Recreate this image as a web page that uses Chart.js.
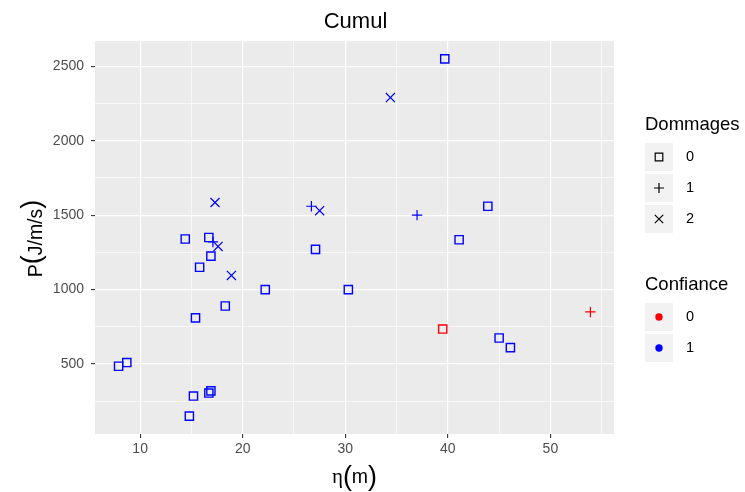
<!DOCTYPE html>
<html>
<head>
<meta charset="utf-8">
<script src="https://cdn.jsdelivr.net/npm/chart.js@4.4.0/dist/chart.umd.min.js"></script>
<style>
html, body { margin: 0; padding: 0; background: #fff; }
#wrap { position: relative; width: 745px; height: 492px; }
</style>
</head>
<body>
<div id="wrap"><canvas id="chart" width="745" height="492"></canvas></div>
<script>
// Values: eta (m), P (J/m/s), Dommages class, Confiance class
const eta = [39.7, 14.4, 16.7, 16.9, 15.8, 22.2, 18.3, 15.4, 7.9, 8.7,
             15.2, 16.9, 16.7, 14.8, 27.1, 30.3, 43.9, 41.1, 45.0, 46.1,
             39.5, 17.1, 26.7, 37.0, 53.9, 17.3, 18.9, 17.6, 34.4, 27.5];
const puissance = [2550, 1340, 1350, 1225, 1150, 1000, 890, 810, 485, 510,
                   285, 320, 305, 150, 1270, 1000, 1560, 1335, 675, 610,
                   735, 1320, 1560, 1500, 850, 1585, 1095, 1290, 2290, 1530];
const dommages = [0, 0, 0, 0, 0, 0, 0, 0, 0, 0,
                  0, 0, 0, 0, 0, 0, 0, 0, 0, 0,
                  0, 1, 1, 1, 1, 2, 2, 2, 2, 2];
const confiance = [1, 1, 1, 1, 1, 1, 1, 1, 1, 1,
                   1, 1, 1, 1, 1, 1, 1, 1, 1, 1,
                   0, 1, 1, 1, 0, 1, 1, 1, 1, 1];

const dommageLevels = ['0', '1', '2'];
const confianceLevels = ['0', '1'];

const xMajor = [10, 20, 30, 40, 50];
const xMinor = [15, 25, 35, 45, 55];
const yMajor = [500, 1000, 1500, 2000, 2500];
const yMinor = [250, 750, 1250, 1750, 2250];

const FONT = "'Liberation Sans', Arial, sans-serif";
const shapes = { 0: 'rect', 1: 'cross', 2: 'crossRot' };
const radii = { 0: 5.8, 1: 5.2, 2: 6.4 };
const colours = { 0: '#FF0000', 1: '#0000FF' };

// one dataset per (dommages, confiance) pair that exists
const datasets = [];
[0, 1, 2].forEach(d => {
    [0, 1].forEach(c => {
        const pts = [];
        eta.forEach((e, i) => {
            if (dommages[i] === d && confiance[i] === c) pts.push({ x: e, y: puissance[i] });
        });
        if (pts.length === 0) return;
        datasets.push({
            label: 'D' + d + ' C' + c,
            data: pts,
            pointStyle: shapes[d],
            pointRadius: radii[d],
            pointBorderWidth: d === 0 ? 1.4 : 1.2,
            borderColor: colours[c],
            pointBorderColor: colours[c],
            backgroundColor: 'rgba(0,0,0,0)',
            pointBackgroundColor: 'rgba(0,0,0,0)'
        });
    });
});

function drawParts(ctx, parts, cx, baseline) {
    let total = 0;
    parts.forEach(p => { ctx.font = p.font; p.w = ctx.measureText(p.t).width; total += p.w; });
    let x = cx - total / 2;
    ctx.textAlign = 'left';
    ctx.textBaseline = 'alphabetic';
    parts.forEach(p => {
        ctx.font = p.font;
        ctx.fillText(p.t, x, baseline + (p.dy || 0));
        x += p.w;
    });
}

function drawSymbol(ctx, kind, x, y) {
    ctx.save();
    ctx.strokeStyle = '#000';
    ctx.lineWidth = 1.2;
    ctx.beginPath();
    if (kind === 'rect') {
        ctx.rect(x - 3.8, y - 3.8, 7.6, 7.6);
    } else if (kind === 'cross') {
        ctx.moveTo(x - 5, y); ctx.lineTo(x + 5, y);
        ctx.moveTo(x, y - 5); ctx.lineTo(x, y + 5);
    } else {
        ctx.moveTo(x - 4.2, y - 4.2); ctx.lineTo(x + 4.2, y + 4.2);
        ctx.moveTo(x - 4.2, y + 4.2); ctx.lineTo(x + 4.2, y - 4.2);
    }
    ctx.stroke();
    ctx.restore();
}

const decorPlugin = {
    id: 'decor',
    beforeDraw(chart) {
        const ctx = chart.ctx;
        const a = chart.chartArea;
        ctx.save();
        ctx.fillStyle = '#FFFFFF';
        ctx.fillRect(0, 0, chart.width, chart.height);
        ctx.fillStyle = '#EBEBEB';
        ctx.fillRect(a.left, a.top, a.right - a.left, a.bottom - a.top);
        ctx.restore();
    },
    afterDraw(chart) {
        const ctx = chart.ctx;
        const a = chart.chartArea;
        const cx = (a.left + a.right) / 2;
        const cy = (a.top + a.bottom) / 2;
        ctx.save();
        ctx.fillStyle = '#000000';

        // title
        ctx.font = '22px ' + FONT;
        ctx.textAlign = 'center';
        ctx.textBaseline = 'alphabetic';
        ctx.fillText('Cumul', cx + 1, 28);

        // x title
        const big = '27px ' + FONT;
        const norm = '19.5px ' + FONT;
        drawParts(ctx, [
            { t: 'η', font: "21px 'Liberation Serif', serif" },
            { t: '(', font: big, dy: 2 },
            { t: 'm', font: norm },
            { t: ')', font: big, dy: 2 }
        ], cx, 483);

        // y title
        ctx.save();
        ctx.translate(42, cy + 1);
        ctx.rotate(-Math.PI / 2);
        drawParts(ctx, [
            { t: 'P', font: norm },
            { t: '(', font: big, dy: -2 },
            { t: 'J/m/s', font: norm },
            { t: ')', font: big, dy: -2 }
        ], 0, 0);
        ctx.restore();

        // legends
        const lx = 645;
        ctx.textAlign = 'left';
        ctx.textBaseline = 'middle';
        ctx.font = '18.5px ' + FONT;
        ctx.fillText('Dommages', lx, 125);
        ctx.fillText('Confiance', lx, 285);

        const dTops = [143, 174, 205];
        dommageLevels.forEach((lab, i) => {
            ctx.fillStyle = '#F2F2F2';
            ctx.fillRect(lx, dTops[i], 28, 28);
            drawSymbol(ctx, shapes[i], lx + 14, dTops[i] + 14);
            ctx.fillStyle = '#000';
            ctx.font = '14.5px ' + FONT;
            ctx.fillText(lab, 686, dTops[i] + 14);
        });

        const cTops = [303, 334];
        confianceLevels.forEach((lab, i) => {
            ctx.fillStyle = '#F2F2F2';
            ctx.fillRect(lx, cTops[i], 28, 28);
            ctx.fillStyle = colours[i];
            ctx.beginPath();
            ctx.arc(lx + 14, cTops[i] + 14, 3.7, 0, Math.PI * 2);
            ctx.fill();
            ctx.fillStyle = '#000';
            ctx.font = '14.5px ' + FONT;
            ctx.fillText(lab, 686, cTops[i] + 14);
        });
        ctx.restore();
    }
};

function gridOpts(major) {
    return {
        color: '#FFFFFF',
        lineWidth: c => (c.tick && major.includes(c.tick.value)) ? 1.2 : 0.6,
        drawTicks: true,
        tickLength: 4,
        tickWidth: 1.1,
        tickColor: c => (c.tick && major.includes(c.tick.value)) ? '#333333' : 'rgba(0,0,0,0)'
    };
}

const ctx = document.getElementById('chart').getContext('2d');
new Chart(ctx, {
    type: 'scatter',
    data: { datasets: datasets },
    options: {
        responsive: false,
        animation: false,
        events: [],
        layout: { padding: { top: 41, right: 131, left: 0, bottom: 0 } },
        plugins: {
            legend: { display: false },
            title: { display: false },
            tooltip: { enabled: false }
        },
        scales: {
            x: {
                type: 'linear',
                min: 5.6,
                max: 56.2,
                border: { display: false },
                grid: gridOpts(xMajor),
                afterBuildTicks: s => { s.ticks = xMajor.concat(xMinor).sort((a, b) => a - b).map(v => ({ value: v })); },
                afterFit: s => { s.height = 58; },
                ticks: {
                    autoSkip: false,
                    maxRotation: 0,
                    padding: 3,
                    color: '#4D4D4D',
                    font: { family: FONT, size: 14 },
                    callback: v => xMajor.includes(v) ? String(v) : ''
                }
            },
            y: {
                type: 'linear',
                min: 30,
                max: 2670,
                border: { display: false },
                grid: gridOpts(yMajor),
                afterBuildTicks: s => { s.ticks = yMajor.concat(yMinor).sort((a, b) => a - b).map(v => ({ value: v })); },
                afterFit: s => { s.width = 95; },
                ticks: {
                    autoSkip: false,
                    padding: 7,
                    color: '#4D4D4D',
                    font: { family: FONT, size: 14 },
                    callback: v => yMajor.includes(v) ? String(v) : ''
                }
            }
        }
    },
    plugins: [decorPlugin]
});
</script>
</body>
</html>
